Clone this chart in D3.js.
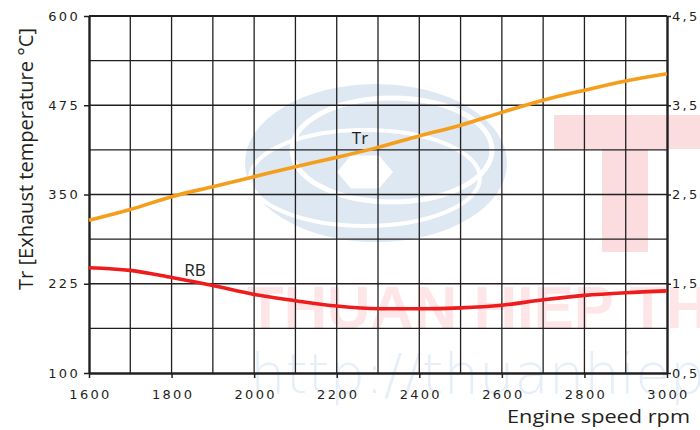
<!DOCTYPE html>
<html>
<head>
<meta charset="utf-8">
<script src="https://cdn.jsdelivr.net/npm/d3@7"></script>
<style>
  body { margin: 0; background: #fff; }
  svg { display: block; }
</style>
</head>
<body>
<svg id="chart" width="700" height="430"></svg>
<script>
// engine speed samples (rpm)
const rpm = [1600, 1700, 1800, 1900, 2000, 2100, 2200, 2300, 2400, 2500, 2600, 2700, 2800, 2900, 3000];
// exhaust temperature Tr (°C), left axis
const trTemp = [314, 329, 347, 361, 375, 389, 402, 416, 432, 447, 465, 482, 496, 509, 519];
// RB, right axis
const rbValues = [1.68, 1.65, 1.57, 1.48, 1.38, 1.31, 1.25, 1.22, 1.22, 1.23, 1.26, 1.32, 1.37, 1.40, 1.42];

const xTicks = [1600, 1800, 2000, 2200, 2400, 2600, 2800, 3000];
const yTicks = [100, 225, 350, 475, 600];
const y2Ticks = [0.5, 1.5, 2.5, 3.5, 4.5];

const margin = {top: 16, right: 33, bottom: 57, left: 89};
const W = 700, H = 430;

const svg = d3.select("#chart");

const x = d3.scaleLinear().domain([1600, 3000]).range([margin.left, W - margin.right]);
const y = d3.scaleLinear().domain([100, 600]).range([H - margin.bottom, margin.top]);
const y2 = d3.scaleLinear().domain([0.5, 4.5]).range([H - margin.bottom, margin.top]);

// --- faint watermark behind the chart
const wm = svg.append("g").attr("class", "watermark");
wm.append("ellipse")
    .attr("cx", 376).attr("cy", 163).attr("rx", 131).attr("ry", 79)
    .attr("fill", "#dde8f2");
wm.append("ellipse")
    .attr("cx", 392).attr("cy", 150).attr("rx", 100).attr("ry", 52)
    .attr("fill", "none").attr("stroke", "#fff").attr("stroke-width", 5);
wm.append("ellipse")
    .attr("cx", 365).attr("cy", 178).attr("rx", 115).attr("ry", 48)
    .attr("fill", "none").attr("stroke", "#fff").attr("stroke-width", 4);
wm.append("path")
    .attr("d", d3.line()(d3.range(6).map(i => [
        365 + 28 * Math.cos(Math.PI / 3 * i),
        172 + 19 * Math.sin(Math.PI / 3 * i)
    ])) + "Z")
    .attr("fill", "#fff");
wm.append("rect").attr("x", 554).attr("y", 115).attr("width", 146).attr("height", 34).attr("fill", "#fbdde0");
wm.append("rect").attr("x", 602).attr("y", 149).attr("width", 46).attr("height", 103).attr("fill", "#fbdde0");
wm.append("text")
    .attr("x", 247).attr("y", 328)
    .attr("font-family", "Liberation Sans, Arial, sans-serif")
    .attr("font-weight", "bold")
    .attr("font-size", 60)
    .attr("fill", "#fde5e8")
    .text("THUAN HIEP THANH");
wm.append("text")
    .attr("x", 250).attr("y", 393)
    .attr("font-family", "DejaVu Sans, sans-serif")
    .attr("font-weight", 200)
    .attr("font-size", 56)
    .attr("fill", "#e6eff8")
    .text("http://thuanhiep.com.vn");

// --- grid
const grid = svg.append("g").attr("stroke", "#231f20").attr("stroke-width", 1.3);
grid.selectAll("line.v")
    .data(d3.range(1700, 3000, 100))
    .join("line").attr("class", "v")
    .attr("x1", d => x(d)).attr("x2", d => x(d))
    .attr("y1", y(100)).attr("y2", y(600));
grid.selectAll("line.h")
    .data(d3.range(162.5, 600, 62.5))
    .join("line").attr("class", "h")
    .attr("x1", x(1600)).attr("x2", x(3000))
    .attr("y1", d => y(d)).attr("y2", d => y(d));

// frame top
svg.append("line")
    .attr("x1", x(1600)).attr("x2", x(3000))
    .attr("y1", y(600)).attr("y2", y(600))
    .attr("stroke", "#231f20").attr("stroke-width", 2.2);

// --- axes
function styleAxis(g) {
    g.select(".domain").attr("stroke", "#231f20").attr("stroke-width", 2.4);
    g.selectAll(".tick line").attr("stroke", "#231f20").attr("stroke-width", 1.5);
    g.selectAll(".tick text")
        .attr("font-family", "DejaVu Sans, Verdana, sans-serif")
        .attr("font-size", 13)
        .attr("letter-spacing", 2.3)
        .attr("fill", "#231f20");
}

svg.append("g")
    .attr("transform", `translate(0,${y(100)})`)
    .call(d3.axisBottom(x).tickValues(xTicks).tickSize(5).tickSizeOuter(0).tickPadding(12).tickFormat(d3.format("d")))
    .call(styleAxis)
    .call(g => g.selectAll(".tick text").attr("dx", 1));

svg.append("g")
    .attr("transform", `translate(${x(1600)},0)`)
    .call(d3.axisLeft(y).tickValues(yTicks).tickSize(5).tickSizeOuter(0).tickPadding(4))
    .call(styleAxis);

svg.append("g")
    .attr("transform", `translate(${x(3000)},0)`)
    .call(d3.axisRight(y2).tickValues(y2Ticks).tickSize(4).tickSizeOuter(0).tickPadding(1)
        .tickFormat(d => d3.format(".1f")(d).replace(".", ",")))
    .call(styleAxis);

// --- axis titles
svg.append("text")
    .attr("transform", `translate(33,${(28 + 290) / 2}) rotate(-90)`)
    .attr("text-anchor", "middle")
    .attr("font-family", "Open Sans, sans-serif")
    .attr("font-size", 20)
    .attr("fill", "#231f20")
    .attr("textLength", 262)
    .attr("lengthAdjust", "spacingAndGlyphs")
    .text("Tr [Exhaust temperature °C]");

svg.append("text")
    .attr("x", 690).attr("y", 423)
    .attr("text-anchor", "end")
    .attr("font-family", "Open Sans, sans-serif")
    .attr("font-size", 19)
    .attr("fill", "#231f20")
    .attr("textLength", 183)
    .attr("lengthAdjust", "spacingAndGlyphs")
    .text("Engine speed rpm");

// --- curves
const trLine = d3.line()
    .x((d, i) => x(rpm[i]))
    .y(d => y(d))
    .curve(d3.curveMonotoneX);
const rbLine = d3.line()
    .x((d, i) => x(rpm[i]))
    .y(d => y2(d))
    .curve(d3.curveMonotoneX);

svg.append("path")
    .datum(trTemp)
    .attr("d", trLine)
    .attr("fill", "none")
    .attr("stroke", "#f59e1b")
    .attr("stroke-width", 3.6);

svg.append("path")
    .datum(rbValues)
    .attr("d", rbLine)
    .attr("fill", "none")
    .attr("stroke", "#ee1c1c")
    .attr("stroke-width", 3.6);

// --- curve labels
svg.append("text")
    .attr("x", 360).attr("y", 144)
    .attr("text-anchor", "middle")
    .attr("font-family", "Open Sans, sans-serif")
    .attr("font-size", 17)
    .attr("fill", "#231f20")
    .text("Tr");

svg.append("text")
    .attr("x", 195).attr("y", 276)
    .attr("text-anchor", "middle")
    .attr("font-family", "Open Sans, sans-serif")
    .attr("font-size", 17)
    .attr("fill", "#231f20")
    .text("RB");
</script>
</body>
</html>
